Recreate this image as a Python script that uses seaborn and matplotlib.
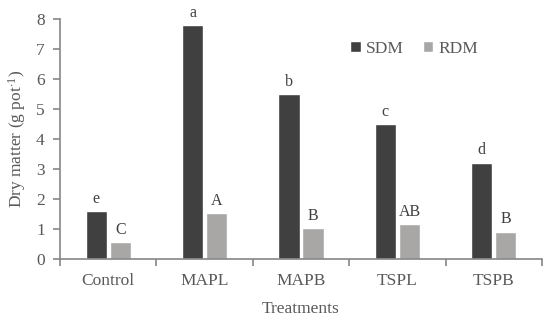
import numpy as np
import pandas as pd
import seaborn as sns
import matplotlib.pyplot as plt
from matplotlib.ticker import FixedLocator

#%% Data
treatments = ["Control", "MAPL", "MAPB", "TSPL", "TSPB"]
sdm = [1.59, 7.80, 5.49, 4.49, 3.20]
rdm = [0.55, 1.51, 1.01, 1.15, 0.90]
sdm_letters = ["e", "a", "b", "c", "d"]
rdm_letters = ["C", "A", "B", "AB", "B"]

df = pd.DataFrame({
    "Treatment": treatments * 2,
    "Value": sdm + rdm,
    "Part": ["SDM"] * len(sdm) + ["RDM"] * len(rdm),
})

#%% Plot
sns.set_style("ticks")
plt.rcParams['font.family'] = ['Liberation Serif', 'DejaVu Serif']
plt.rcParams['mathtext.fontset'] = 'custom'
plt.rcParams['mathtext.rm'] = 'Liberation Serif'
plt.rcParams['mathtext.it'] = 'Liberation Serif:italic'
txt = "#595959"
axc = "#868686"
fs = 12.5

fig = plt.figure(figsize=(5.5, 3.21), dpi=100)
ax = fig.add_axes([60 / 550, 1 - 258.7 / 321, 482 / 550, 239.7 / 321])

sns.barplot(data=df, x="Treatment", y="Value", hue="Part",
            palette={"SDM": "#404040", "RDM": "#a9a6a6"},
            width=0.5, gap=0.12, ax=ax, legend=True)

# letters above bars
bars = [p for p in ax.patches if p.get_height() > 0][:2 * len(treatments)]
letters = sdm_letters + rdm_letters
for p, lab in zip(bars, letters):
    ax.text(p.get_x() + p.get_width() / 2, p.get_height() + 0.28, lab,
            ha="center", va="baseline", fontsize=11.5, color="#404040", clip_on=False)

ax.set_ylim(0, 8)
ax.set_xlim(-0.5, len(treatments) - 0.5)
ax.set_yticks(range(0, 9))
ax.xaxis.set_minor_locator(FixedLocator(np.arange(-0.5, len(treatments), 1.0)))
ax.tick_params(axis="x", which="major", length=0, labelsize=fs,
               labelcolor=txt, pad=10)
ax.tick_params(axis="x", which="minor", bottom=True, length=5, color=axc,
               width=1.2, direction="out")
ax.tick_params(axis="y", which="major", left=True, length=5, color=axc, width=1.2,
               labelsize=fs, labelcolor=txt, direction="out", pad=6)

for s in ["top", "right"]:
    ax.spines[s].set_visible(False)
for s in ["left", "bottom"]:
    ax.spines[s].set_color(axc)
    ax.spines[s].set_linewidth(1.2)

ax.set_xlabel("Treatments", fontsize=fs, color=txt, labelpad=9)
ax.set_ylabel("Dry matter (g pot$^{\\cdot1}$)", fontsize=fs, color=txt, labelpad=6)

leg = ax.legend(loc="center left", bbox_to_anchor=(0.57, 0.875), ncol=2, frameon=False,
                fontsize=fs, handlelength=0.6, handleheight=0.6, handletextpad=0.3,
                columnspacing=1.1, labelcolor=txt)

fig.savefig("out.png", dpi=100)
